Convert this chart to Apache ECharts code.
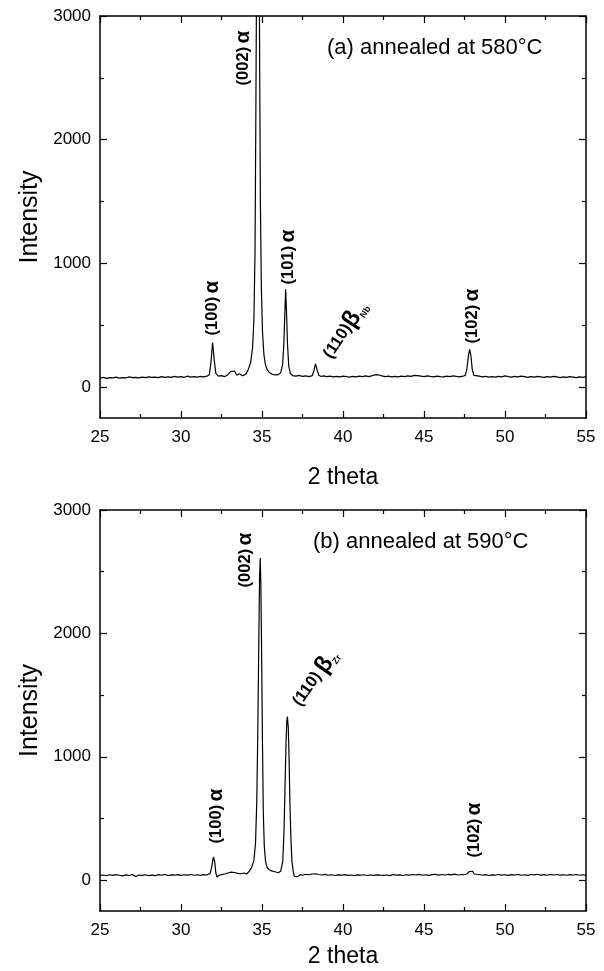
<!DOCTYPE html>
<html>
<head>
<meta charset="utf-8">
<script src="https://cdn.jsdelivr.net/npm/echarts@6/dist/echarts.min.js"></script>
<style>
  html, body { margin: 0; padding: 0; background: #fff; }
  #chart { width: 604px; height: 971px; }
</style>
</head>
<body>
<div id="chart"></div>
<script>
// XRD scans, [2theta, intensity]
const scan580 = [
  [25.0,72],[25.2,78],[25.4,70],[25.6,76],[25.8,74],[26.0,80],[26.2,73],[26.4,77],[26.6,75],[26.8,82],
  [27.0,76],[27.2,79],[27.4,74],[27.6,81],[27.8,77],[28.0,83],[28.2,78],[28.4,80],[28.6,76],[28.8,84],
  [29.0,79],[29.2,82],[29.4,78],[29.6,86],[29.8,80],[30.0,84],[30.2,79],[30.4,88],[30.6,81],[30.8,85],
  [31.0,80],[31.2,86],[31.4,82],[31.6,88],[31.75,100],[31.85,200],[31.95,360],[32.05,220],[32.15,110],
  [32.3,88],[32.5,92],[32.7,85],[32.9,100],[33.05,125],[33.15,115],[33.3,130],[33.45,95],[33.6,108],
  [33.8,92],[34.0,105],[34.15,140],[34.3,200],[34.42,320],[34.5,550],[34.57,1100],[34.62,2200],
  [34.66,3200],[34.72,4500],[34.77,4600],[34.82,3600],[34.86,2500],[34.9,1500],[34.96,800],[35.03,450],
  [35.12,260],[35.2,190],[35.3,145],[35.45,118],[35.6,105],[35.8,98],[36.0,100],[36.15,115],[36.27,180],
  [36.35,350],[36.41,600],[36.46,790],[36.51,620],[36.57,360],[36.65,170],[36.75,110],[36.9,92],
  [37.1,88],[37.3,94],[37.5,86],[37.7,90],[37.9,84],[38.1,92],[38.2,130],[38.3,187],[38.4,140],[38.5,96],
  [38.65,86],[38.8,90],[39.0,84],[39.2,88],[39.4,82],[39.6,87],[39.8,83],[40.0,89],[40.2,84],[40.4,80],
  [40.6,86],[40.8,82],[41.0,88],[41.2,84],[41.4,90],[41.6,85],[41.8,92],[42.0,100],[42.1,115],[42.2,98],
  [42.4,90],[42.6,85],[42.8,88],[43.0,83],[43.2,87],[43.4,82],[43.6,88],[43.8,84],[44.0,90],[44.2,86],
  [44.4,95],[44.5,110],[44.6,92],[44.8,88],[45.0,84],[45.2,90],[45.4,86],[45.6,83],[45.8,89],[46.0,85],
  [46.2,82],[46.4,88],[46.6,84],[46.8,90],[47.0,86],[47.2,83],[47.4,88],[47.55,95],[47.65,150],
  [47.75,260],[47.82,305],[47.9,250],[47.98,140],[48.08,95],[48.2,84],[48.4,88],[48.6,82],[48.8,86],
  [49.0,80],[49.2,85],[49.4,81],[49.6,87],[49.8,83],[50.0,90],[50.2,84],[50.4,80],[50.6,86],[50.8,82],
  [51.0,88],[51.2,84],[51.4,79],[51.6,85],[51.8,81],[52.0,87],[52.2,83],[52.4,78],[52.6,84],[52.8,80],
  [53.0,86],[53.2,82],[53.4,77],[53.6,83],[53.8,79],[54.0,85],[54.2,81],[54.4,76],[54.6,82],[54.8,78],
  [55.0,84]
]
const scan590 = [
  [25.0,38],[25.2,42],[25.4,36],[25.6,44],[25.8,39],[26.0,45],[26.2,40],[26.4,35],[26.6,43],[26.8,38],
  [27.0,46],[27.2,30],[27.4,42],[27.6,39],[27.8,44],[28.0,37],[28.2,41],[28.4,36],[28.6,45],[28.8,40],
  [29.0,47],[29.2,38],[29.4,43],[29.6,40],[29.8,45],[30.0,39],[30.2,44],[30.4,41],[30.6,46],[30.8,40],
  [31.0,44],[31.2,39],[31.4,45],[31.6,42],[31.8,55],[31.9,110],[32.0,188],[32.08,150],[32.15,60],
  [32.22,25],[32.35,40],[32.5,45],[32.7,50],[32.9,58],[33.1,65],[33.3,62],[33.5,55],[33.7,52],[33.9,58],
  [34.05,50],[34.2,70],[34.35,100],[34.5,160],[34.6,300],[34.68,650],[34.74,1200],[34.8,1900],
  [34.85,2450],[34.89,2610],[34.93,2400],[34.98,1800],[35.03,1100],[35.08,550],[35.14,280],[35.22,150],
  [35.32,100],[35.45,85],[35.6,75],[35.8,68],[36.0,60],[36.15,72],[36.28,150],[36.36,400],[36.42,750],
  [36.48,1100],[36.53,1290],[36.57,1326],[36.62,1240],[36.67,1000],[36.72,650],[36.78,350],[36.85,150],
  [36.93,70],[37.0,30],[37.1,45],[37.2,28],[37.35,45],[37.5,40],[37.7,48],[37.9,44],[38.1,50],[38.3,52],
  [38.5,46],[38.7,42],[38.9,47],[39.1,40],[39.3,44],[39.5,38],[39.7,43],[39.9,40],[40.1,45],[40.3,39],
  [40.5,42],[40.7,37],[40.9,43],[41.1,40],[41.3,44],[41.5,38],[41.7,42],[41.9,39],[42.1,43],[42.3,40],
  [42.5,38],[42.7,42],[42.9,37],[43.1,47],[43.3,40],[43.5,43],[43.7,38],[43.9,44],[44.1,41],[44.3,46],
  [44.5,42],[44.7,47],[44.9,40],[45.1,44],[45.3,39],[45.5,45],[45.7,48],[45.9,41],[46.1,46],[46.3,42],
  [46.5,47],[46.7,43],[46.9,49],[47.1,42],[47.3,46],[47.5,44],[47.65,50],[47.8,70],[47.9,84],[48.0,72],
  [48.1,50],[48.2,42],[48.4,46],[48.6,40],[48.8,45],[49.0,38],[49.2,43],[49.4,40],[49.6,46],[49.8,41],
  [50.0,44],[50.2,39],[50.4,45],[50.6,42],[50.8,47],[51.0,40],[51.2,44],[51.4,39],[51.6,46],[51.8,43],
  [52.0,48],[52.2,41],[52.4,45],[52.6,40],[52.8,47],[53.0,42],[53.2,46],[53.4,41],[53.6,44],[53.8,40],
  [54.0,45],[54.2,42],[54.4,46],[54.6,40],[54.8,44],[55.0,39]
]
const yLabels = [0, 1000, 2000, 3000]
const yMinor = [500, 1500, 2500]
const titles = ['(a) annealed at 580°C', '(b) annealed at 590°C']

const font = '"Liberation Sans", Arial, Helvetica, sans-serif'
const black = '#000'
const grids = [
  { left: 100, width: 486, top: 16, height: 402 },
  { left: 100, width: 486, top: 510, height: 401 }
]

function xAxes(gi, nameGap) {
  const base = {
    gridIndex: gi, type: 'value', min: 25, max: 55, interval: 5,
    axisLine: { show: true, onZero: false, lineStyle: { color: black, width: 1.5 } },
    axisTick: { show: true, inside: true, length: 7, lineStyle: { color: black, width: 1.2 } },
    minorTick: { show: true, splitNumber: 2, length: 4, lineStyle: { color: black, width: 1.2 } },
    splitLine: { show: false }
  }
  return [
    Object.assign({}, base, {
      position: 'bottom',
      axisLabel: { color: black, fontSize: 17, fontFamily: font, margin: 11 },
      name: '2 theta', nameLocation: 'middle', nameGap: nameGap,
      nameTextStyle: { color: black, fontSize: 23, fontFamily: font }
    }),
    Object.assign({}, base, { position: 'top', axisLabel: { show: false } })
  ]
}

function yAxes(gi) {
  const base = {
    gridIndex: gi, type: 'value', min: -250, max: 3000,
    splitLine: { show: false }
  }
  const line = { show: true, onZero: false, lineStyle: { color: black, width: 1.5 } }
  const major = { show: true, inside: true, length: 7, customValues: yLabels, lineStyle: { color: black, width: 1.2 } }
  const minor = { show: true, inside: true, length: 4, customValues: yMinor, lineStyle: { color: black, width: 1.2 } }
  return [
    Object.assign({}, base, {
      position: 'left', axisLine: line, axisTick: major,
      axisLabel: {
        color: black, fontSize: 17, fontFamily: font, margin: 9, customValues: yLabels,
        formatter: function (v) { return String(v) }
      },
      name: 'Intensity', nameLocation: 'middle', nameGap: 56,
      nameTextStyle: { color: black, fontSize: 25, fontFamily: font }
    }),
    Object.assign({}, base, { position: 'left', axisLine: { show: false }, axisTick: minor, axisLabel: { show: false } }),
    Object.assign({}, base, { position: 'right', axisLine: line, axisTick: major, axisLabel: { show: false } }),
    Object.assign({}, base, { position: 'right', axisLine: { show: false }, axisTick: minor, axisLabel: { show: false } })
  ]
}

// peak labels (hkl), rotated like in the figure
const rich = {
  n: { fontSize: 16.5, fontWeight: 'bold', fontFamily: font, fill: black },
  g: { fontSize: 21, fontWeight: 'bold', fontFamily: font, fill: black },
  b: { fontSize: 24, fontWeight: 'bold', fontFamily: font, fill: black },
  s: { fontSize: 9, fontWeight: 'bold', fontFamily: font, fill: black, verticalAlign: 'bottom' }
}
function peak(x, y, txt, angle) {
  return {
    type: 'text', x: x, y: y, rotation: angle * Math.PI / 180, z: 10,
    style: { text: txt, rich: rich, align: 'center', verticalAlign: 'middle', fill: black }
  }
}
function title(x, y, txt) {
  return {
    type: 'text', x: x, y: y, z: 10,
    style: { text: txt, font: '22px ' + font, fill: black, align: 'left', verticalAlign: 'middle' }
  }
}

const chart = echarts.init(document.getElementById('chart'))
chart.setOption({
  animation: false,
  backgroundColor: '#fff',
  grid: grids,
  xAxis: xAxes(0, 48).concat(xAxes(1, 34)),
  yAxis: yAxes(0).concat(yAxes(1)),
  series: [
    {
      type: 'line', xAxisIndex: 0, yAxisIndex: 0, data: scan580, showSymbol: false, clip: true,
      lineStyle: { color: black, width: 1.2 }
    },
    {
      type: 'line', xAxisIndex: 2, yAxisIndex: 4, data: scan590, showSymbol: false, clip: true,
      lineStyle: { color: black, width: 1.2 }
    }
  ],
  graphic: [
    title(327, 48, titles[0]),
    title(313, 542, titles[1]),
    peak(243, 58, '{n|(002)} {g|α}', 90),
    peak(212, 308, '{n|(100)} {g|α}', 90),
    peak(288, 257, '{n|(101)} {g|α}', 90),
    peak(345, 330, '{n|(110)}{b|β}{s|Nb}', 57),
    peak(472, 316, '{n|(102)} {g|α}', 90),
    peak(245, 560, '{n|(002)} {g|α}', 90),
    peak(216, 816, '{n|(100)} {g|α}', 90),
    peak(315, 678, '{n|(110)} {b|β}{s|Zr}', 55),
    peak(474, 830, '{n|(102)} {g|α}', 90)
  ]
})
</script>
</body>
</html>
